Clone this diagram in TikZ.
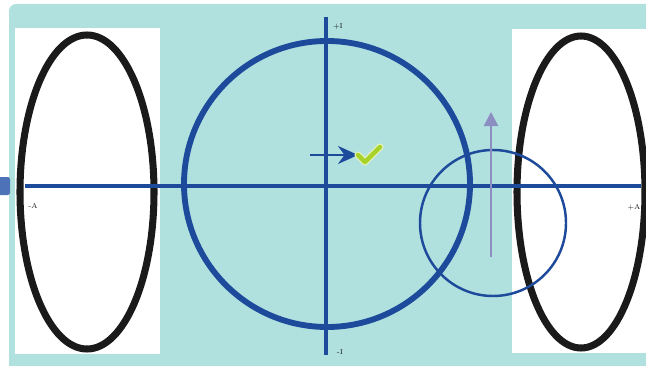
\documentclass[tikz,border=0pt]{standalone}
\usepackage{tikz}
\usetikzlibrary{arrows.meta}
\definecolor{phteal}{HTML}{B0E1DF}
\definecolor{phblue}{HTML}{1D4A9B}
\definecolor{phstub}{HTML}{4E72B8}
\definecolor{phblack}{HTML}{1A1A1A}
\definecolor{phlav}{HTML}{8C8DC0}
\definecolor{phgreen}{HTML}{A6D22A}
\definecolor{phgreenlt}{HTML}{E6F2B8}
\tikzset{
  panel/.style    = {fill=white, draw=none},
  ring/.style     = {draw=phblack, line width=6pt},
  axis/.style     = {draw=phblue, line width=3.4pt},
  phasor/.style   = {draw=phblue, line width=5pt},
  probe/.style    = {draw=phblue, line width=2.1pt},
  lift/.style     = {draw=phlav, line width=2pt, -{Triangle[length=4.2mm,width=4.2mm]}},
  push/.style     = {draw=phblue, line width=2.2pt, -{Stealth[length=6mm,width=5.4mm]}},
  tick/.style     = {font=\fontsize{6}{7}\selectfont, text=phblack, inner sep=0pt},
}
\begin{document}
\begin{tikzpicture}[x=0.03cm,y=-0.03cm]
  \useasboundingbox (0,0) rectangle (646,366);
  % backdrop and panels
  \fill[phteal, rounded corners=6pt] (9,4) rectangle (660,380);
  \fill[phstub, rounded corners=2pt] (-5,177) rectangle (10,195);
  \fill[panel] (15,28) rectangle (160,354);
  \fill[panel] (512,29) rectangle (660,353);

  % outer rings
  \draw[ring] (87,192) ellipse [x radius=67, y radius=157];
  \draw[ring] (581,192) ellipse [x radius=64, y radius=156];

  % main circle and axes
  \draw[phasor] (327,184) circle [radius=143];
  \coordinate (ytop) at (326,17);
  \coordinate (ybot) at (326,355);
  \coordinate (xlft) at (25,186);
  \coordinate (xrgt) at (641,186);
  \draw[axis] (xlft) -- (xrgt);
  \draw[axis] (ytop) -- (ybot);
  \node[tick] (ip) at (338,27)  {+I};
  \node[tick] (im) at (340,352) {-I};
  \node[tick] (am) at (33,206)  {-A};
  \node[tick] (ap) at (634,207) {+A};

  % small circle with upward arrow
  \draw[probe] (493,223) circle [radius=73];
  \coordinate (lbot) at (491,257);
  \coordinate (ltop) at (491,112);
  \draw[lift] (lbot) -- (ltop);

  % arrow and tick mark
  \coordinate (pstart) at (310,155);
  \coordinate (pend) at (358,155);
  \draw[push] (pstart) -- (pend);
  \draw[phgreenlt, line width=6pt, line cap=round, line join=round]
    (358,155) -- (365,162) -- (380,147);
  \draw[phgreen, line width=3.8pt, line cap=round, line join=round]
    (358,155) -- (365,162) -- (380,147);
\end{tikzpicture}
\end{document}
